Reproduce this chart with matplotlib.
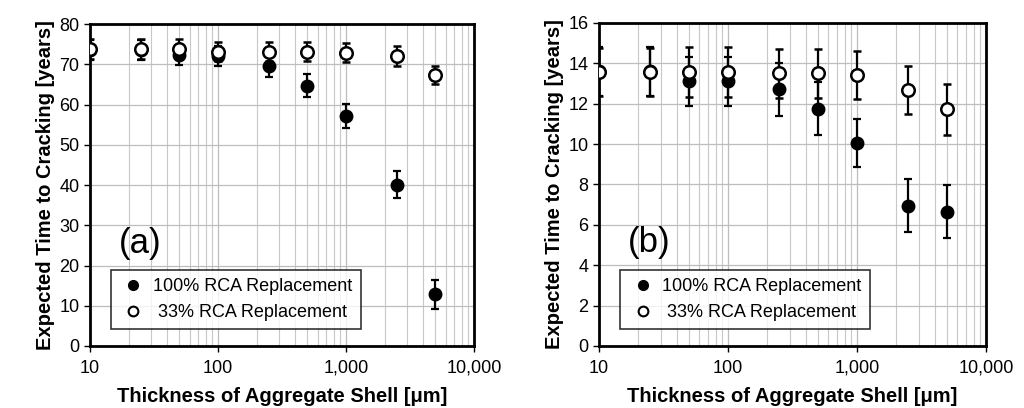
import numpy as np
import matplotlib.pyplot as plt
from matplotlib.lines import Line2D
from matplotlib.ticker import FuncFormatter, LogLocator, NullFormatter

plt.rcParams['font.family'] = ['Liberation Sans', 'DejaVu Sans']

# shell thickness [um]
thickness = [10, 25, 50, 100, 250, 500, 1000, 2500, 5000]

# panel (a)
a_full = [73.6, 73.6, 72.3, 72.0, 69.6, 64.7, 57.2, 40.1, 12.8]
a_full_err = [2.5, 2.5, 2.5, 2.5, 2.7, 2.8, 3.0, 3.4, 3.5]
a_third = [73.8, 73.8, 73.8, 73.1, 73.1, 73.1, 72.9, 72.1, 67.3]
a_third_err = [2.4, 2.4, 2.4, 2.4, 2.4, 2.4, 2.4, 2.4, 2.3]

# panel (b)
b_full = [13.6, 13.6, 13.1, 13.1, 12.7, 11.75, 10.05, 6.95, 6.65]
b_full_err = [1.2, 1.2, 1.2, 1.2, 1.3, 1.3, 1.2, 1.3, 1.3]
b_third = [13.56, 13.56, 13.56, 13.56, 13.5, 13.5, 13.42, 12.68, 11.72]
b_third_err = [1.2, 1.2, 1.25, 1.25, 1.2, 1.2, 1.2, 1.2, 1.25]

fig = plt.figure(figsize=(10.24, 4.08), dpi=100)
ax1 = fig.add_axes([0.0879, 0.152, 0.375, 0.789])
ax2 = fig.add_axes([0.585, 0.152, 0.378, 0.792])

def comma(v, pos):
    return '{:,.0f}'.format(v)

def draw(ax, full, full_err, third, third_err, ymax, ystep, tag):
    ax.errorbar(thickness, full, yerr=full_err, fmt='o', color='black',
                ms=9, mfc='black', mec='black', ecolor='black', elinewidth=1.6,
                capsize=3, capthick=1.6, zorder=3)
    ax.errorbar(thickness, third, yerr=third_err, fmt='o', color='black',
                ms=9, mfc='white', mec='black', mew=1.8, ecolor='black', elinewidth=1.6,
                capsize=3, capthick=1.6, zorder=4)
    ax.set_xscale('log')
    ax.set_xlim(10, 10000)
    ax.set_ylim(0, ymax)
    ax.set_yticks(np.arange(0, ymax + 0.1, ystep))
    ax.xaxis.set_major_formatter(FuncFormatter(comma))
    ax.xaxis.set_minor_locator(LogLocator(base=10, subs=np.arange(2, 10)))
    ax.xaxis.set_minor_formatter(NullFormatter())
    ax.grid(True, which='major', color='#bdbdbd', lw=0.9)
    ax.grid(True, which='minor', axis='x', color='#c8c8c8', lw=0.8)
    ax.set_axisbelow(True)
    for s in ax.spines.values():
        s.set_linewidth(2)
    ax.tick_params(axis='both', which='major', labelsize=13, direction='out', length=4, width=1)
    ax.tick_params(axis='x', which='minor', length=0)
    ax.tick_params(axis='x', pad=6)
    ax.set_xlabel('Thickness of Aggregate Shell [\u03bcm]', fontsize=14.5, fontweight='bold', labelpad=7)
    ax.set_ylabel('Expected Time to Cracking [years]', fontsize=14.5, fontweight='bold', labelpad=3)
    ax.text(0.075, 0.29, tag, transform=ax.transAxes, fontsize=25)
    handles = [
        Line2D([], [], ls='none', marker='o', ms=7, mfc='black', mec='black'),
        Line2D([], [], ls='none', marker='o', ms=7, mfc='white', mec='black', mew=1.5),
    ]
    leg = ax.legend(handles, ['100% RCA Replacement', ' 33% RCA Replacement'],
                    loc='lower left', bbox_to_anchor=(0.04, 0.035), fontsize=13,
                    frameon=True, fancybox=False, edgecolor='black', handletextpad=0.3,
                    handlelength=1.6, borderpad=0.45, labelspacing=0.5, borderaxespad=0.3)
    leg.get_frame().set_linewidth(1.2)

draw(ax1, a_full, a_full_err, a_third, a_third_err, 80, 10, '(a)')
draw(ax2, b_full, b_full_err, b_third, b_third_err, 16, 2, '(b)')

fig.savefig('out.png', dpi=100)
